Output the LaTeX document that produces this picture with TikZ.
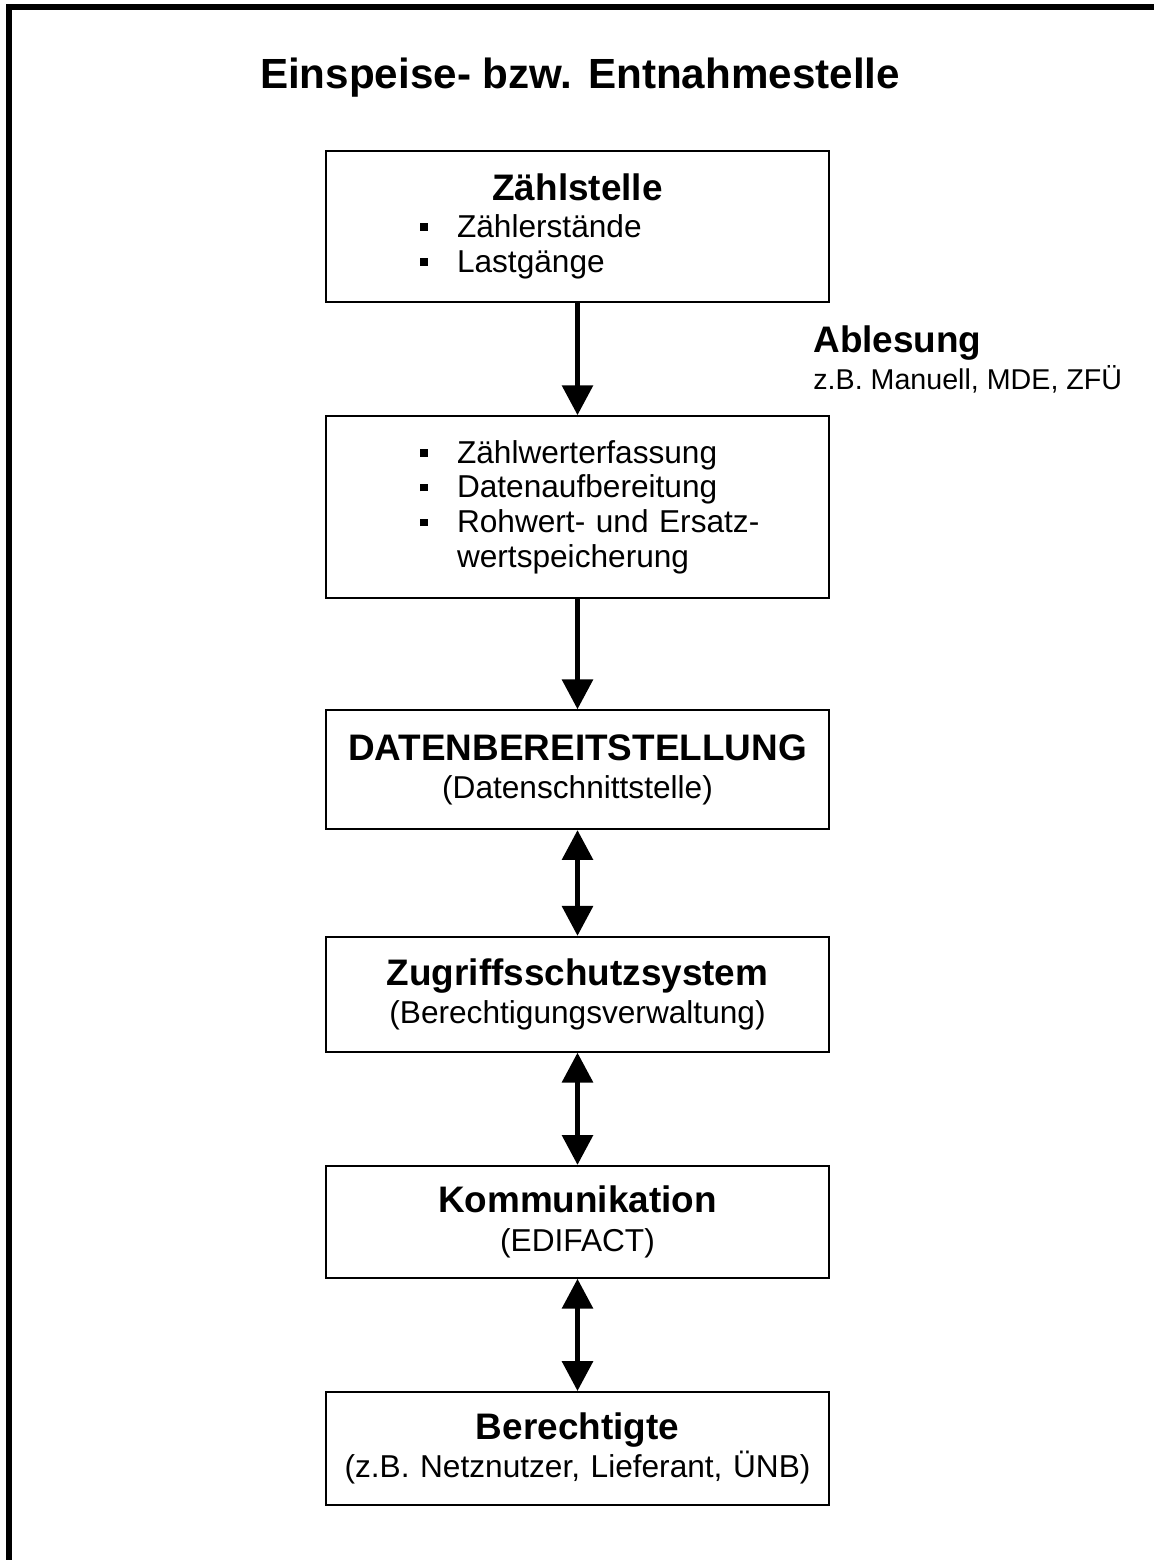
\documentclass[tikz,border=0pt]{standalone}
\usepackage{fontspec}
\setmainfont{Liberation Sans}
\usetikzlibrary{arrows.meta,calc,positioning}

\newcommand{\boxw}{10.06cm}
\newcommand{\itm}[1]{\makebox[\boxw][l]{\hspace*{1.88cm}\makebox[0.74cm][l]{\rule[0.13cm]{0.15cm}{0.15cm}}#1}}
\newcommand{\itmcont}[1]{\makebox[\boxw][l]{\hspace*{2.62cm}#1}}
\newcommand{\hd}[1]{{\fontsize{21}{23}\selectfont\bfseries #1}}

\begin{document}
\begin{tikzpicture}[node distance=2.25cm,
    box/.style={rectangle, draw, line width=0.9pt, text width=\boxw, inner xsep=0pt, inner ysep=2pt, align=center, font=\fontsize{18}{19.8}\selectfont},
    flow/.style={-{Triangle[width=0.6cm,length=0.6cm]}, line width=3.4pt},
    flowboth/.style={{Triangle[width=0.6cm,length=0.6cm]}-{Triangle[width=0.6cm,length=0.6cm]}, line width=3.4pt}]
    \useasboundingbox (0,0) rectangle (23.06,-31.2);
    \draw[line width=3.4pt] (0.18,-31.5) |- (23.4,-0.14);

    \node[font=\fontsize{24}{28}\selectfont\bfseries, anchor=base] (title) at (11.6,-1.77) {Einspeise- bzw. Entnahmestelle};

    \node[box, minimum height=3.02cm] (zaehl) at (11.55,-4.53) {\hd{Zählstelle}\\[1pt] \itm{Zählerstände}\\ \itm{Lastgänge}};
    \node[box, minimum height=3.64cm, below=of zaehl] (erfass) {\itm{Zählwerterfassung}\\ \itm{Datenaufbereitung}\\ \itm{Rohwert- und Ersatz-}\\ \itmcont{wertspeicherung}};
    \node[box, minimum height=2.38cm, below=2.21cm of erfass] (bereit) {\hd{DATENBEREITSTELLUNG}\\[2pt] (Datenschnittstelle)};
    \node[box, minimum height=2.3cm, below=2.12cm of bereit] (schutz) {\hd{Zugriffsschutzsystem}\\[2pt] (Berechtigungsverwaltung)};
    \node[box, minimum height=2.24cm, below=of schutz] (komm) {\hd{Kommunikation}\\[2pt] (EDIFACT)};
    \node[box, minimum height=2.26cm, below=of komm] (berecht) {\hd{Berechtigte}\\[2pt] (z.B. Netznutzer, Lieferant, ÜNB)};

    \node[align=left, inner sep=0pt, font=\fontsize{16.3}{17.3}\selectfont, right=4.71cm] (ablesung) at ($(zaehl.south)!0.5!(erfass.north)$) {\hd{Ablesung}\\[2pt] z.B. Manuell, MDE, ZFÜ};

    \draw[flow] (zaehl) -- (erfass);
    \draw[flow] (erfass) -- (bereit);
    \draw[flowboth] (bereit) -- (schutz);
    \draw[flowboth] (schutz) -- (komm);
    \draw[flowboth] (komm) -- (berecht);
\end{tikzpicture}
\end{document}
